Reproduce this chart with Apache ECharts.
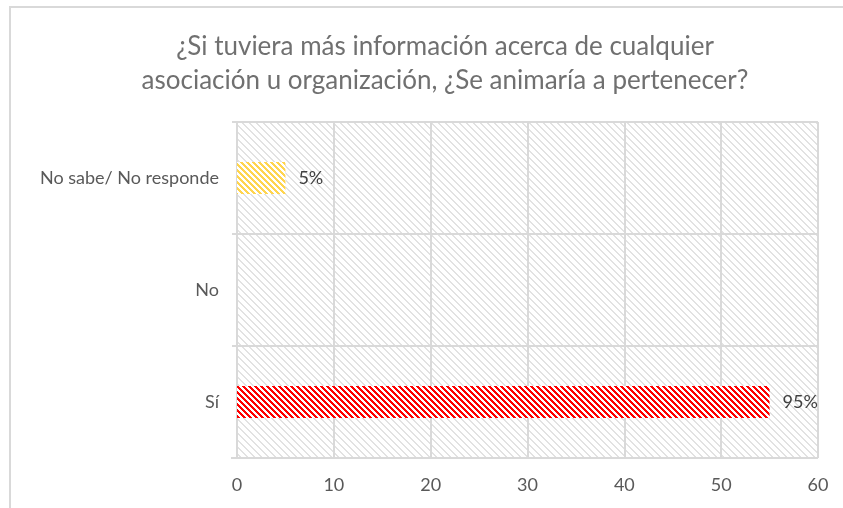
<!DOCTYPE html>
<html>
<head>
<meta charset="utf-8">
<script src="https://cdn.jsdelivr.net/npm/echarts@6/dist/echarts.min.js"></script>
<style>
  html, body { margin: 0; padding: 0; background: #fff; }
  #chart { width: 843px; height: 508px; }
</style>
</head>
<body>
<div id="chart"></div>
<script>
// datos
const categories = ["Sí", "No", "No sabe/ No responde"];
const values = [55, 0, 5];
const valueLabels = ["95%", "", "5%"];
const xTicks = { min: 0, max: 60, interval: 10 };

// trama diagonal "\\" en un canvas pequeño
const hatch = (size, lineW, fg, bg) => {
  const c = document.createElement("canvas");
  c.width = size;
  c.height = size;
  const ctx = c.getContext("2d");
  const img = ctx.createImageData(size, size);
  const parse = (hex) => [parseInt(hex.slice(1, 3), 16), parseInt(hex.slice(3, 5), 16), parseInt(hex.slice(5, 7), 16)];
  const f = parse(fg), b = parse(bg);
  for (let y = 0; y < size; y++) {
    for (let x = 0; x < size; x++) {
      const on = (((x - y) % size) + size) % size < lineW;
      const col = on ? f : b;
      const i = (y * size + x) * 4;
      img.data[i] = col[0];
      img.data[i + 1] = col[1];
      img.data[i + 2] = col[2];
      img.data[i + 3] = 255;
    }
  }
  ctx.putImageData(img, 0, 0);
  return { image: c, repeat: "repeat" };
};

const bgPattern = hatch(7, 2, "#e2e2e2", "#ffffff");
const barPatterns = [hatch(6, 3, "#ff0000", "#ffffff"), null, hatch(6, 3, "#ffd54f", "#ffffff")];

const font = "Lato";

const chart = echarts.init(document.getElementById("chart"));
chart.setOption({
  animation: false,
  backgroundColor: "#fff",
  title: {
    text: "¿Si tuviera más información acerca de cualquier\nasociación u organización, ¿Se animaría a pertenecer?",
    left: 440,
    textAlign: "center",
    top: 25,
    textStyle: {
      fontFamily: font,
      fontWeight: "normal",
      fontSize: 26,
      lineHeight: 34,
      color: "#707070",
    },
  },
  graphic: [
    {
      type: "polyline",
      shape: { points: [[10, 520], [10, 7], [860, 7]] },
      style: { stroke: "#d9d9d9", lineWidth: 2, fill: null },
      silent: true,
    },
    {
      // la línea base sobresale un poco a la izquierda del eje
      type: "line",
      shape: { x1: 231, y1: 458, x2: 238, y2: 458 },
      style: { stroke: "#d9d9d9", lineWidth: 2 },
      silent: true,
    },
  ],
  grid: {
    left: 237,
    right: 25,
    top: 122,
    bottom: 50,
    show: true,
    backgroundColor: bgPattern,
    borderWidth: 0,
  },
  xAxis: {
    type: "value",
    min: xTicks.min,
    max: xTicks.max,
    interval: xTicks.interval,
    axisLine: { show: false },
    axisTick: { show: false },
    splitLine: { show: true, lineStyle: { color: "#d9d9d9", width: 2 } },
    axisLabel: { color: "#595959", fontSize: 18, fontFamily: font, margin: 18 },
  },
  yAxis: {
    type: "category",
    data: categories,
    axisLine: { show: true, lineStyle: { color: "#d9d9d9", width: 2 } },
    axisTick: { show: true, length: 5, lineStyle: { color: "#d9d9d9", width: 2 } },
    splitLine: { show: true, lineStyle: { color: "#d9d9d9", width: 2 } },
    axisLabel: { color: "#595959", fontSize: 18, fontFamily: font, margin: 18 },
  },
  series: [
    {
      type: "bar",
      barWidth: 32,
      data: values.map((v, i) => ({
        value: v,
        itemStyle: barPatterns[i] ? { color: barPatterns[i] } : {},
        label: { formatter: valueLabels[i] },
      })),
      label: {
        show: true,
        position: "right",
        distance: 13,
        color: "#404040",
        fontSize: 18,
        fontFamily: font,
      },
    },
  ],
});
</script>
</body>
</html>
